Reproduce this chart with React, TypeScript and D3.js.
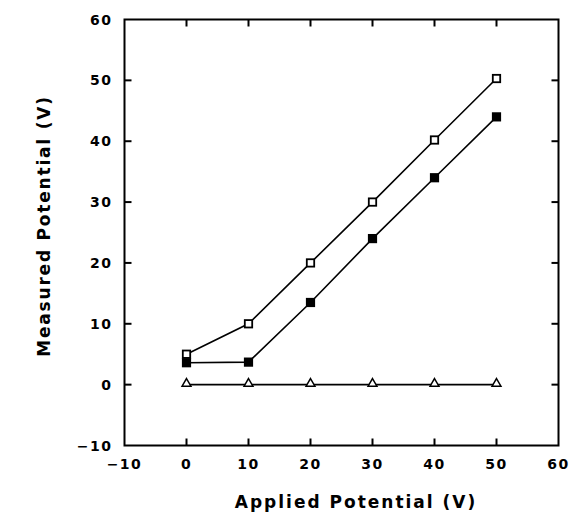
import React, { useEffect, useRef } from 'react';
import * as d3 from 'd3';

const applied = [0, 10, 20, 30, 40, 50];
const openSquares = [5, 10, 20, 30, 40.2, 50.3];
const filledSquares = [3.6, 3.7, 13.5, 24, 34, 44];
const triangles = [0, 0, 0, 0, 0, 0];
const xTicks = [-10, 0, 10, 20, 30, 40, 50, 60];
const yTicks = [-10, 0, 10, 20, 30, 40, 50, 60];

export default function App() {
  const svgRef = useRef<SVGSVGElement>(null);

  useEffect(() => {
    const svg = d3.select(svgRef.current);
    svg.selectAll('*').remove();

    const width = 569;
    const height = 514;
    const margin = { top: 19.5, right: 10.5, bottom: 68.5, left: 124.5 };

    const x = d3.scaleLinear().domain([-10, 60]).range([margin.left, width - margin.right]);
    const y = d3.scaleLinear().domain([-10, 60]).range([height - margin.bottom, margin.top]);

    svg.attr('width', width).attr('height', height);
    const font = 'DejaVu Sans, Verdana, sans-serif';

    // frame
    svg.append('rect')
      .attr('x', x(-10)).attr('y', y(60))
      .attr('width', x(60) - x(-10)).attr('height', y(-10) - y(60))
      .attr('fill', 'none').attr('stroke', '#000').attr('stroke-width', 2);

    const tl = 7;
    // inward ticks, all four sides
    xTicks.slice(1, -1).forEach(t => {
      svg.append('line').attr('x1', x(t)).attr('x2', x(t))
        .attr('y1', y(-10)).attr('y2', y(-10) - tl)
        .attr('stroke', '#000').attr('stroke-width', 2);
      svg.append('line').attr('x1', x(t)).attr('x2', x(t))
        .attr('y1', y(60)).attr('y2', y(60) + tl)
        .attr('stroke', '#000').attr('stroke-width', 2);
    });
    yTicks.slice(1, -1).forEach(t => {
      svg.append('line').attr('x1', x(-10)).attr('x2', x(-10) + tl)
        .attr('y1', y(t)).attr('y2', y(t))
        .attr('stroke', '#000').attr('stroke-width', 2);
      svg.append('line').attr('x1', x(60)).attr('x2', x(60) - tl)
        .attr('y1', y(t)).attr('y2', y(t))
        .attr('stroke', '#000').attr('stroke-width', 2);
    });

    const fmt = (d: number) => (d < 0 ? '\u2212' + Math.abs(d) : String(d));

    // tick labels
    xTicks.forEach(t => {
      svg.append('text')
        .attr('x', x(t)).attr('y', y(-10) + 23)
        .attr('text-anchor', 'middle')
        .attr('font-family', font).attr('font-weight', 'bold').attr('font-size', 14)
        .attr('letter-spacing', 1.5)
        .text(fmt(t));
    });
    yTicks.forEach(t => {
      svg.append('text')
        .attr('x', x(-10) - 12).attr('y', y(t))
        .attr('dy', '0.36em')
        .attr('text-anchor', 'end')
        .attr('font-family', font).attr('font-weight', 'bold').attr('font-size', 14)
        .attr('letter-spacing', 1.5)
        .text(fmt(t));
    });

    // axis titles
    svg.append('text')
      .attr('x', 356).attr('y', 508)
      .attr('text-anchor', 'middle')
      .attr('font-family', font).attr('font-weight', 'bold').attr('font-size', 17)
      .attr('letter-spacing', 2)
      .text('Applied Potential (V)');
    svg.append('text')
      .attr('transform', 'translate(50, 226) rotate(-90)')
      .attr('text-anchor', 'middle')
      .attr('font-family', font).attr('font-weight', 'bold').attr('font-size', 17)
      .attr('letter-spacing', 1.8)
      .text('Measured Potential (V)');

    const line = d3.line<number>().x((_, i) => x(applied[i])).y(d => y(d));
    const series = [
      { values: triangles, shape: 'triangle' },
      { values: filledSquares, shape: 'filled' },
      { values: openSquares, shape: 'open' },
    ];

    series.forEach(s => {
      svg.append('path')
        .attr('d', line(s.values))
        .attr('fill', 'none').attr('stroke', '#000').attr('stroke-width', 1.6);
    });

    const tri = d3.symbol().type(d3.symbolTriangle).size(34);
    series.forEach(s => {
      s.values.forEach((v, i) => {
        const cx = x(applied[i]);
        const cy = y(v);
        if (s.shape === 'triangle') {
          svg.append('path')
            .attr('d', tri())
            .attr('transform', `translate(${cx},${cy - 1})`)
            .attr('fill', '#fff').attr('stroke', '#000').attr('stroke-width', 1.5);
        } else {
          svg.append('rect')
            .attr('x', cx - 3.7).attr('y', cy - 3.7)
            .attr('width', 7.4).attr('height', 7.4)
            .attr('fill', s.shape === 'filled' ? '#000' : '#fff')
            .attr('stroke', '#000').attr('stroke-width', 1.8);
        }
      });
    });
  }, []);

  return (
    <div style={{ position: 'absolute', left: 0, top: 0, background: '#fff' }}>
      <svg ref={svgRef}></svg>
    </div>
  );
}
